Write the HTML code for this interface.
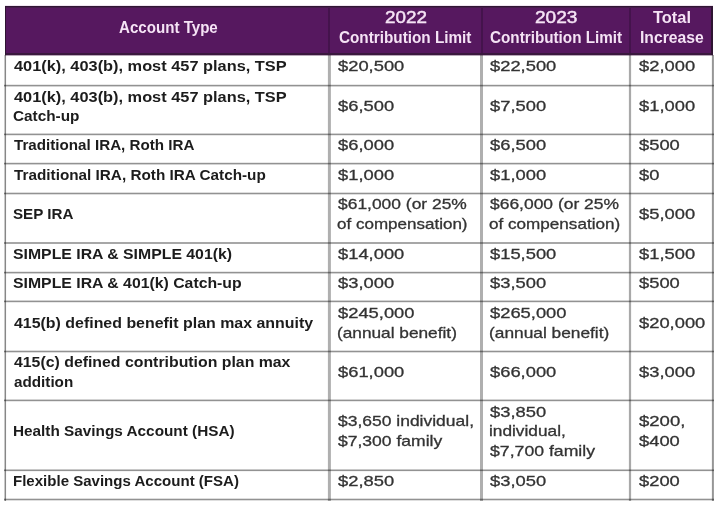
<!DOCTYPE html>
<html><head><meta charset="utf-8"><style>
html,body{margin:0;padding:0;background:#fff;}
body{width:720px;height:506px;position:relative;overflow:hidden;}
.t{position:absolute;white-space:pre;font-family:"Liberation Sans",Arial,sans-serif;font-size:15.0px;line-height:20px;transform-origin:0 0;}
.ln{position:absolute;mix-blend-mode:multiply;}
.r{-webkit-text-stroke:0.3px #333333;}
.rh{-webkit-text-stroke:0.45px #f5e3f5;}
</style></head><body>
<div style="position:absolute;left:5px;top:6px;width:708px;height:49px;background:#56185f"></div>
<div style="position:absolute;left:5px;top:5px;width:708px;height:1px;background:#f1e5f1"></div>
<div style="position:absolute;left:5px;top:6px;width:708px;height:1px;background:#301535"></div>
<div style="position:absolute;left:5px;top:7px;width:708px;height:1px;background:#461c4a"></div>
<div style="position:absolute;left:5px;top:53px;width:708px;height:2px;background:#3a183e"></div>
<div style="position:absolute;left:5px;top:55px;width:708px;height:1px;background:#b8a8b8"></div>
<div style="position:absolute;left:5px;top:6px;width:1px;height:49px;background:#2e1432"></div>
<div style="position:absolute;left:711px;top:6px;width:2px;height:49px;background:#2e1432"></div>
<div style="position:absolute;left:328px;top:8px;width:2px;height:45px;background:#44134c"></div>
<div style="position:absolute;left:481px;top:8px;width:2px;height:45px;background:#44134c"></div>
<div style="position:absolute;left:629px;top:8px;width:2px;height:45px;background:#44134c"></div>
<div class="ln" style="left:4px;top:84px;width:710px;height:1px;background:rgb(233,233,233)"></div>
<div class="ln" style="left:4px;top:85px;width:710px;height:1px;background:rgb(146,146,146)"></div>
<div class="ln" style="left:4px;top:86px;width:710px;height:1px;background:rgb(211,211,211)"></div>
<div class="ln" style="left:4px;top:133px;width:710px;height:1px;background:rgb(211,211,211)"></div>
<div class="ln" style="left:4px;top:134px;width:710px;height:1px;background:rgb(146,146,146)"></div>
<div class="ln" style="left:4px;top:135px;width:710px;height:1px;background:rgb(233,233,233)"></div>
<div class="ln" style="left:4px;top:162px;width:710px;height:1px;background:rgb(233,233,233)"></div>
<div class="ln" style="left:4px;top:163px;width:710px;height:1px;background:rgb(146,146,146)"></div>
<div class="ln" style="left:4px;top:164px;width:710px;height:1px;background:rgb(211,211,211)"></div>
<div class="ln" style="left:4px;top:192px;width:710px;height:1px;background:rgb(222,222,222)"></div>
<div class="ln" style="left:4px;top:193px;width:710px;height:1px;background:rgb(146,146,146)"></div>
<div class="ln" style="left:4px;top:194px;width:710px;height:1px;background:rgb(222,222,222)"></div>
<div class="ln" style="left:4px;top:242px;width:710px;height:1px;background:rgb(167,167,167)"></div>
<div class="ln" style="left:4px;top:243px;width:710px;height:1px;background:rgb(167,167,167)"></div>
<div class="ln" style="left:4px;top:271px;width:710px;height:1px;background:rgb(233,233,233)"></div>
<div class="ln" style="left:4px;top:272px;width:710px;height:1px;background:rgb(146,146,146)"></div>
<div class="ln" style="left:4px;top:273px;width:710px;height:1px;background:rgb(211,211,211)"></div>
<div class="ln" style="left:4px;top:300px;width:710px;height:1px;background:rgb(211,211,211)"></div>
<div class="ln" style="left:4px;top:301px;width:710px;height:1px;background:rgb(146,146,146)"></div>
<div class="ln" style="left:4px;top:302px;width:710px;height:1px;background:rgb(233,233,233)"></div>
<div class="ln" style="left:4px;top:350px;width:710px;height:1px;background:rgb(222,222,222)"></div>
<div class="ln" style="left:4px;top:351px;width:710px;height:1px;background:rgb(146,146,146)"></div>
<div class="ln" style="left:4px;top:352px;width:710px;height:1px;background:rgb(222,222,222)"></div>
<div class="ln" style="left:4px;top:399px;width:710px;height:1px;background:rgb(211,211,211)"></div>
<div class="ln" style="left:4px;top:400px;width:710px;height:1px;background:rgb(146,146,146)"></div>
<div class="ln" style="left:4px;top:401px;width:710px;height:1px;background:rgb(233,233,233)"></div>
<div class="ln" style="left:4px;top:469px;width:710px;height:1px;background:rgb(200,200,200)"></div>
<div class="ln" style="left:4px;top:470px;width:710px;height:1px;background:rgb(146,146,146)"></div>
<div class="ln" style="left:4px;top:471px;width:710px;height:1px;background:rgb(244,244,244)"></div>
<div class="ln" style="left:4px;top:498px;width:710px;height:1px;background:rgb(222,222,222)"></div>
<div class="ln" style="left:4px;top:499px;width:710px;height:1px;background:rgb(146,146,146)"></div>
<div class="ln" style="left:4px;top:500px;width:710px;height:1px;background:rgb(222,222,222)"></div>
<div class="ln" style="left:4px;top:55px;width:1px;height:446px;background:rgb(201,201,201)"></div>
<div class="ln" style="left:5px;top:55px;width:1px;height:446px;background:rgb(135,135,135)"></div>
<div class="ln" style="left:6px;top:55px;width:1px;height:446px;background:rgb(249,249,249)"></div>
<div class="ln" style="left:327px;top:55px;width:1px;height:446px;background:rgb(247,247,247)"></div>
<div class="ln" style="left:328px;top:55px;width:1px;height:446px;background:rgb(175,175,175)"></div>
<div class="ln" style="left:329px;top:55px;width:1px;height:446px;background:rgb(175,175,175)"></div>
<div class="ln" style="left:330px;top:55px;width:1px;height:446px;background:rgb(183,183,183)"></div>
<div class="ln" style="left:480px;top:55px;width:1px;height:446px;background:rgb(175,175,175)"></div>
<div class="ln" style="left:481px;top:55px;width:1px;height:446px;background:rgb(175,175,175)"></div>
<div class="ln" style="left:482px;top:55px;width:1px;height:446px;background:rgb(175,175,175)"></div>
<div class="ln" style="left:628px;top:55px;width:1px;height:446px;background:rgb(246,246,246)"></div>
<div class="ln" style="left:629px;top:55px;width:1px;height:446px;background:rgb(169,169,169)"></div>
<div class="ln" style="left:630px;top:55px;width:1px;height:446px;background:rgb(169,169,169)"></div>
<div class="ln" style="left:631px;top:55px;width:1px;height:446px;background:rgb(246,246,246)"></div>
<div class="ln" style="left:711px;top:55px;width:1px;height:446px;background:rgb(244,244,244)"></div>
<div class="ln" style="left:712px;top:55px;width:1px;height:446px;background:rgb(150,150,150)"></div>
<div class="ln" style="left:713px;top:55px;width:1px;height:446px;background:rgb(161,161,161)"></div>
<div class="t" style="left:14.20px;top:56.35px;font-weight:700;color:#1c1c1c;transform:scaleX(1.0900)">401(k), 403(b), most 457 plans, TSP</div>
<div class="t r" style="left:337.80px;top:56.35px;font-weight:400;color:#333333;transform:scaleX(1.2227)">$20,500</div>
<div class="t r" style="left:490.30px;top:56.35px;font-weight:400;color:#333333;transform:scaleX(1.2227)">$22,500</div>
<div class="t r" style="left:639.00px;top:56.35px;font-weight:400;color:#333333;transform:scaleX(1.2227)">$2,000</div>
<div class="t" style="left:14.20px;top:86.50px;font-weight:700;color:#1c1c1c;transform:scaleX(1.0900)">401(k), 403(b), most 457 plans, TSP</div>
<div class="t" style="left:13.18px;top:106.10px;font-weight:700;color:#1c1c1c;transform:scaleX(1.0222)">Catch-up</div>
<div class="t r" style="left:337.80px;top:96.30px;font-weight:400;color:#333333;transform:scaleX(1.2227)">$6,500</div>
<div class="t r" style="left:490.30px;top:96.30px;font-weight:400;color:#333333;transform:scaleX(1.2227)">$7,500</div>
<div class="t r" style="left:639.00px;top:96.30px;font-weight:400;color:#333333;transform:scaleX(1.2227)">$1,000</div>
<div class="t" style="left:14.20px;top:135.40px;font-weight:700;color:#1c1c1c;transform:scaleX(1.0118)">Traditional IRA, Roth IRA</div>
<div class="t r" style="left:337.80px;top:135.40px;font-weight:400;color:#333333;transform:scaleX(1.2227)">$6,000</div>
<div class="t r" style="left:490.30px;top:135.40px;font-weight:400;color:#333333;transform:scaleX(1.2227)">$6,500</div>
<div class="t r" style="left:639.00px;top:135.40px;font-weight:400;color:#333333;transform:scaleX(1.2227)">$500</div>
<div class="t" style="left:14.20px;top:164.75px;font-weight:700;color:#1c1c1c;transform:scaleX(1.0195)">Traditional IRA, Roth IRA Catch-up</div>
<div class="t r" style="left:337.80px;top:164.75px;font-weight:400;color:#333333;transform:scaleX(1.2227)">$1,000</div>
<div class="t r" style="left:490.30px;top:164.75px;font-weight:400;color:#333333;transform:scaleX(1.2227)">$1,000</div>
<div class="t r" style="left:639.00px;top:164.75px;font-weight:400;color:#333333;transform:scaleX(1.2227)">$0</div>
<div class="t" style="left:13.19px;top:204.20px;font-weight:700;color:#1c1c1c;transform:scaleX(1.0103)">SEP IRA</div>
<div class="t r" style="left:337.80px;top:194.40px;font-weight:400;color:#333333;transform:scaleX(1.1618)">$61,000 (or 25%</div>
<div class="t r" style="left:336.67px;top:214.00px;font-weight:400;color:#333333;transform:scaleX(1.1345)">of compensation)</div>
<div class="t r" style="left:490.30px;top:194.40px;font-weight:400;color:#333333;transform:scaleX(1.1627)">$66,000 (or 25%</div>
<div class="t r" style="left:489.16px;top:214.00px;font-weight:400;color:#333333;transform:scaleX(1.1398)">of compensation)</div>
<div class="t r" style="left:639.00px;top:204.20px;font-weight:400;color:#333333;transform:scaleX(1.2227)">$5,000</div>
<div class="t" style="left:13.15px;top:243.90px;font-weight:700;color:#1c1c1c;transform:scaleX(1.0539)">SIMPLE IRA &amp; SIMPLE 401(k)</div>
<div class="t r" style="left:337.80px;top:243.90px;font-weight:400;color:#333333;transform:scaleX(1.2227)">$14,000</div>
<div class="t r" style="left:490.30px;top:243.90px;font-weight:400;color:#333333;transform:scaleX(1.2227)">$15,500</div>
<div class="t r" style="left:639.00px;top:243.90px;font-weight:400;color:#333333;transform:scaleX(1.2227)">$1,500</div>
<div class="t" style="left:13.15px;top:273.25px;font-weight:700;color:#1c1c1c;transform:scaleX(1.0540)">SIMPLE IRA &amp; 401(k) Catch-up</div>
<div class="t r" style="left:337.80px;top:273.25px;font-weight:400;color:#333333;transform:scaleX(1.2227)">$3,000</div>
<div class="t r" style="left:490.30px;top:273.25px;font-weight:400;color:#333333;transform:scaleX(1.2227)">$3,500</div>
<div class="t r" style="left:639.00px;top:273.25px;font-weight:400;color:#333333;transform:scaleX(1.2227)">$500</div>
<div class="t" style="left:14.20px;top:312.80px;font-weight:700;color:#1c1c1c;transform:scaleX(1.0617)">415(b) defined benefit plan max annuity</div>
<div class="t r" style="left:337.80px;top:303.00px;font-weight:400;color:#333333;transform:scaleX(1.2227)">$245,000</div>
<div class="t r" style="left:336.65px;top:322.60px;font-weight:400;color:#333333;transform:scaleX(1.1500)">(annual benefit)</div>
<div class="t r" style="left:490.30px;top:303.00px;font-weight:400;color:#333333;transform:scaleX(1.2227)">$265,000</div>
<div class="t r" style="left:489.15px;top:322.60px;font-weight:400;color:#333333;transform:scaleX(1.1539)">(annual benefit)</div>
<div class="t r" style="left:639.00px;top:312.80px;font-weight:400;color:#333333;transform:scaleX(1.2227)">$20,000</div>
<div class="t" style="left:14.20px;top:352.20px;font-weight:700;color:#1c1c1c;transform:scaleX(1.0563)">415(c) defined contribution plan max</div>
<div class="t" style="left:14.20px;top:371.80px;font-weight:700;color:#1c1c1c;transform:scaleX(1.0155)">addition</div>
<div class="t r" style="left:337.80px;top:362.00px;font-weight:400;color:#333333;transform:scaleX(1.2227)">$61,000</div>
<div class="t r" style="left:490.30px;top:362.00px;font-weight:400;color:#333333;transform:scaleX(1.2227)">$66,000</div>
<div class="t r" style="left:639.00px;top:362.00px;font-weight:400;color:#333333;transform:scaleX(1.2227)">$3,000</div>
<div class="t" style="left:13.18px;top:421.20px;font-weight:700;color:#1c1c1c;transform:scaleX(1.0214)">Health Savings Account (HSA)</div>
<div class="t r" style="left:337.80px;top:411.40px;font-weight:400;color:#333333;transform:scaleX(1.1647)">$3,650 individual,</div>
<div class="t r" style="left:337.80px;top:431.00px;font-weight:400;color:#333333;transform:scaleX(1.1685)">$7,300 family</div>
<div class="t r" style="left:490.30px;top:401.60px;font-weight:400;color:#333333;transform:scaleX(1.2227)">$3,850</div>
<div class="t r" style="left:489.15px;top:421.20px;font-weight:400;color:#333333;transform:scaleX(1.1508)">individual,</div>
<div class="t r" style="left:490.30px;top:440.80px;font-weight:400;color:#333333;transform:scaleX(1.1775)">$7,700 family</div>
<div class="t r" style="left:639.00px;top:411.40px;font-weight:400;color:#333333;transform:scaleX(1.2361)">$200,</div>
<div class="t r" style="left:639.00px;top:431.00px;font-weight:400;color:#333333;transform:scaleX(1.2227)">$400</div>
<div class="t" style="left:13.20px;top:470.80px;font-weight:700;color:#1c1c1c;transform:scaleX(1.0027)">Flexible Savings Account (FSA)</div>
<div class="t r" style="left:337.80px;top:470.80px;font-weight:400;color:#333333;transform:scaleX(1.2227)">$2,850</div>
<div class="t r" style="left:490.30px;top:470.80px;font-weight:400;color:#333333;transform:scaleX(1.2227)">$3,050</div>
<div class="t r" style="left:639.00px;top:470.80px;font-weight:400;color:#333333;transform:scaleX(1.2227)">$200</div>
<div class="t" style="left:118.50px;top:18.00px;font-size:16.0px;font-weight:700;color:#f5e3f5;transform:scaleX(0.9442)">Account Type</div>
<div class="t rh" style="left:384.72px;top:8.00px;font-size:16.0px;font-weight:400;color:#f5e3f5;transform:scaleX(1.1765)">2022</div>
<div class="t" style="left:339.04px;top:28.00px;font-size:16.0px;font-weight:700;color:#f5e3f5;transform:scaleX(0.9551)">Contribution Limit</div>
<div class="t rh" style="left:535.01px;top:8.00px;font-size:16.0px;font-weight:400;color:#f5e3f5;transform:scaleX(1.1912)">2023</div>
<div class="t" style="left:489.75px;top:28.00px;font-size:16.0px;font-weight:700;color:#f5e3f5;transform:scaleX(0.9529)">Contribution Limit</div>
<div class="t" style="left:653.40px;top:8.00px;font-size:16.0px;font-weight:700;color:#f5e3f5;transform:scaleX(1.0250)">Total</div>
<div class="t" style="left:639.82px;top:28.00px;font-size:16.0px;font-weight:700;color:#f5e3f5;transform:scaleX(0.9797)">Increase</div>
</body></html>
